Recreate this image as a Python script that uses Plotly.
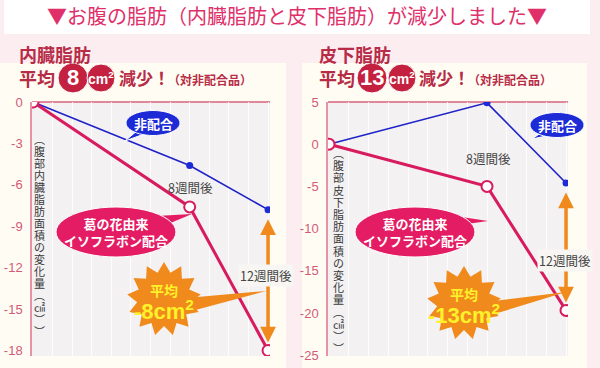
import numpy as np
import plotly.graph_objects as go

# ---------------- data ----------------
weeks = [0, 8, 12]
visceral_control = [0, -4.6, -7.8]
visceral_kudzu = [0, -7.6, -18.0]
subcut_control = [0, 4.9, -4.6]
subcut_kudzu = [0, -5.0, -19.7]
visceral_ticks = [0, -3, -6, -9, -12, -15, -18]
subcut_ticks = [5, 0, -5, -10, -15, -20, -25]
visceral_range = [-18.4, 0]
subcut_range = [-25.1, 5]
week_range = [-0.05, 12.1]

title_text = "▼お腹の脂肪（内臓脂肪と皮下脂肪）が減少しました▼"
panel_titles = ["内臓脂肪", "皮下脂肪"]
avg_values = ["8", "13"]
ytitles = ["︵腹部内臓脂肪面積の変化量︵㎠︶︶", "︵腹部皮下脂肪面積の変化量︵㎠︶︶"]
label_control = "非配合"
label_kudzu = "葛の花由来<br>イソフラボン配合"
label_8w = "8週間後"
label_12w = "12週間後"
burst_values = ["-8", "-13"]

# ---------------- styling ----------------
W, H = 600, 368
PINK_BG = "#fcedf1"
CREAM = "#fffdf3"
PLOT_BG = "#f3f1f2"
TICK_COL = "#d45a78"
HEAD_COL = "#b72c47"
CIRC_COL = "#c4203f"
PINK_LINE = "#d81b5e"
PINK_FILL = "#e41c63"
BLUE = "#1f22c8"
BLUE_FILL = "#1c2bd6"
ORANGE = "#f08a1c"
YELLOW = "#fff12a"
JP = "Noto Sans CJK JP"
NUM = "Liberation Sans"


def px(x):
    return x / W


def py(y):
    return 1 - y / H


def poly_path(pts):
    s = "M " + " L ".join(f"{px(x):.5f},{py(y):.5f}" for x, y in pts)
    return s + " Z"


def ellipse_pts(cx, cy, rx, ry, n=48):
    t = np.linspace(0, 2 * np.pi, n, endpoint=False)
    return list(zip(cx + rx * np.cos(t), cy + ry * np.sin(t)))


def star_pts(cx, cy, R, r, n=13):
    pts = []
    for i in range(2 * n):
        a = -np.pi / 2 + i * np.pi / n
        rad = R if i % 2 == 0 else r
        pts.append((cx + rad * np.cos(a), cy + rad * np.sin(a)))
    return pts


def text_at(x, y, text, font, xanchor="center", **kw):
    d = dict(x=px(x), y=py(y), xref="paper", yref="paper", text=text, showarrow=False,
             xanchor=xanchor, yanchor="middle", font=font)
    d.update(kw)
    return d


PLOT_TOP, PLOT_BOT = 102, 356

panels = [
    dict(xa="x", ya="y", left=32, right=270, yr=visceral_range, ticks=visceral_ticks,
         ctrl=visceral_control, kudzu=visceral_kudzu, title=panel_titles[0],
         avg=avg_values[0], ytitle=ytitles[0], burst=burst_values[0],
         bg=(0, 286), off=0,
         bubble=(153, 123), bubble_tip=(125, 141), w8=(190, 187),
         ell=(116, 232), ell_tip=(192, 214), star=(164, 299), star_tip=(266, 291),
         w12=(266, 275), yt=(39, 139, 12.0), c1=(73, 15), c2=(101, 14),
         txt_after=117, paren=166),
    dict(xa="x2", ya="y2", left=328, right=568, yr=subcut_range, ticks=subcut_ticks,
         ctrl=subcut_control, kudzu=subcut_kudzu, title=panel_titles[1],
         avg=avg_values[1], ytitle=ytitles[1], burst=burst_values[1],
         bg=(302, 587), off=300,
         bubble=(557, 125), bubble_tip=(532, 139), w8=(488, 158),
         ell=(415, 232), ell_tip=(488, 221), star=(464, 303), star_tip=(566, 292),
         w12=(565, 260), yt=(338, 153, 12.2), c1=(372, 15), c2=(402, 14),
         txt_after=417, paren=466),
]

fig = go.Figure()
shapes = []
annos = []

# title band
shapes.append(dict(type="rect", xref="paper", yref="paper", x0=px(4), x1=px(590),
                   y0=py(34), y1=py(0), fillcolor="white", line_width=0, layer="below"))
annos.append(text_at(297, 16, title_text, dict(family=JP, size=20, color="#e0306a")))

layout_axes = {}
for i, p in enumerate(panels):
    sfx = "" if i == 0 else "2"
    L, R = p["left"], p["right"]
    y0, y1 = p["yr"]
    ppu = (PLOT_BOT - PLOT_TOP) / (y1 - y0)

    # backgrounds
    shapes.append(dict(type="rect", xref="paper", yref="paper", x0=px(p["bg"][0]),
                       x1=px(p["bg"][1]), y0=py(368), y1=py(63), fillcolor=CREAM,
                       line_width=0, layer="below"))
    shapes.append(dict(type="rect", xref="paper", yref="paper", x0=px(L), x1=px(R),
                       y0=py(PLOT_BOT), y1=py(PLOT_TOP), fillcolor=PLOT_BG,
                       line_width=0, layer="below"))
    shapes.append(dict(type="line", xref="paper", yref="paper", x0=px(L), x1=px(R),
                       y0=py(PLOT_TOP), y1=py(PLOT_TOP),
                       line=dict(color="#d9607f", width=1.5), layer="below"))

    layout_axes["xaxis" + sfx] = dict(domain=[px(L), px(R)], range=week_range,
                                      anchor="y" + sfx, showticklabels=False,
                                      showgrid=True, gridcolor="rgba(255,255,255,0.85)",
                                      gridwidth=1, dtick=1, tick0=0, zeroline=False,
                                      showline=False, ticks="", fixedrange=True,
                                      automargin=False)
    layout_axes["yaxis" + sfx] = dict(domain=[py(PLOT_BOT), py(PLOT_TOP)], range=p["yr"],
                                      anchor="x" + sfx, tickmode="array",
                                      tickvals=p["ticks"],
                                      ticktext=[str(t) for t in p["ticks"]],
                                      tickfont=dict(family=NUM, size=13, color=TICK_COL),
                                      showgrid=False, zeroline=False, showline=True,
                                      linecolor="#e693a8", linewidth=1.5, ticks="",
                                      ticklabelstandoff=5, fixedrange=True,
                                      automargin=False)

    # traces
    fig.add_trace(go.Scatter(x=weeks, y=p["ctrl"], xaxis=p["xa"], yaxis=p["ya"],
                             mode="lines+markers", line=dict(color=BLUE, width=1.6),
                             marker=dict(size=7, color=BLUE_FILL), showlegend=False,
                             hoverinfo="skip"))
    fig.add_trace(go.Scatter(x=weeks, y=p["kudzu"], xaxis=p["xa"], yaxis=p["ya"],
                             mode="lines+markers", line=dict(color=PINK_LINE, width=3),
                             marker=dict(size=11, color="white",
                                         line=dict(color=PINK_LINE, width=2)),
                             showlegend=False, hoverinfo="skip"))

    # 12-week double arrow between the two final points
    gap = 8 / ppu
    annos.append(dict(x=weeks[-1], y=p["kudzu"][-1] + gap, ax=weeks[-1],
                      ay=p["ctrl"][-1] - gap, xref=p["xa"], yref=p["ya"],
                      axref=p["xa"], ayref=p["ya"], text="", showarrow=True,
                      arrowside="end+start", arrowhead=2, arrowsize=0.9,
                      arrowwidth=3.5, arrowcolor=ORANGE, standoff=0, startstandoff=0))
    annos.append(text_at(p["w12"][0], p["w12"][1], label_12w,
                         dict(family=JP, size=12.5, color="#444444"),
                         bgcolor="#f8f6f3", borderpad=1))
    annos.append(text_at(p["w8"][0], p["w8"][1], label_8w,
                         dict(family=JP, size=12.5, color="#444444")))

    # blue bubble
    bx, by = p["bubble"]
    shapes.append(dict(type="path", xref="paper", yref="paper",
                       path=poly_path([(bx - 15, by + 7), (bx - 6, by + 10), p["bubble_tip"]]),
                       fillcolor=BLUE_FILL, line=dict(color="white", width=1), layer="above"))
    shapes.append(dict(type="path", xref="paper", yref="paper",
                       path=poly_path(ellipse_pts(bx, by, 27, 12.5)),
                       fillcolor=BLUE_FILL, line=dict(color="white", width=1), layer="above"))
    annos.append(text_at(bx, by, "<b>" + label_control + "</b>",
                         dict(family=JP, size=13, color="white")))

    # pink ellipse
    ex, ey = p["ell"]
    shapes.append(dict(type="path", xref="paper", yref="paper",
                       path=poly_path([(ex + 40, ey - 16), (ex + 52, ey - 8), p["ell_tip"]]),
                       fillcolor=PINK_FILL, line_width=0, layer="above"))
    shapes.append(dict(type="path", xref="paper", yref="paper",
                       path=poly_path(ellipse_pts(ex, ey, 60, 25)),
                       fillcolor=PINK_FILL, line=dict(color="white", width=1), layer="above"))
    annos.append(text_at(ex, ey, "<b>" + label_kudzu.replace("<br>", "</b><br><b>") + "</b>",
                         dict(family=JP, size=13, color="white")))

    # starburst
    sx, sy = p["star"]
    shapes.append(dict(type="path", xref="paper", yref="paper",
                       path=poly_path([(sx + 22, sy - 1), (sx + 24, sy + 13), p["star_tip"]]),
                       fillcolor=ORANGE, line_width=0, layer="above"))
    shapes.append(dict(type="path", xref="paper", yref="paper",
                       path=poly_path(star_pts(sx, sy, 37, 27)),
                       fillcolor=ORANGE, line_width=0, layer="above"))
    annos.append(text_at(sx, sy - 9, "<b>平均</b>", dict(family=JP, size=14, color=YELLOW)))
    annos.append(text_at(sx, sy + 11, "<b>" + p["burst"] + "cm<sup>2</sup></b>",
                         dict(family="Liberation Sans Narrow, Liberation Sans", size=22,
                              color=YELLOW)))

    # vertical y title
    tx, ty0, step = p["yt"]
    for k, ch in enumerate(p["ytitle"]):
        annos.append(text_at(tx, ty0 + k * step, ch,
                             dict(family=JP, size=11, color="#3a3a3a")))

    # headers
    off = p["off"]
    annos.append(text_at(off + 17, 54, "<b>" + p["title"] + "</b>",
                         dict(family=JP, size=18, color=HEAD_COL), xanchor="left"))
    annos.append(text_at(off + 17, 78, "<b>平均</b>",
                         dict(family=JP, size=18, color=HEAD_COL), xanchor="left"))
    c1x, c1r = p["c1"]
    c2x, c2r = p["c2"]
    for cx, cr in [(c1x, c1r), (c2x, c2r)]:
        shapes.append(dict(type="circle", xref="paper", yref="paper",
                           x0=px(cx - cr), x1=px(cx + cr), y0=py(78 + cr), y1=py(78 - cr),
                           fillcolor=CIRC_COL, line=dict(color="white", width=1),
                           layer="above"))
    annos.append(text_at(c1x, 78, "<b>" + p["avg"] + "</b>",
                         dict(family=NUM, size=22, color="white")))
    annos.append(text_at(c2x, 78, "<b>cm<sup>2</sup></b>",
                         dict(family=NUM, size=14, color="white")))
    annos.append(text_at(p["txt_after"], 78, "<b>減少！</b>",
                         dict(family=JP, size=17, color=HEAD_COL), xanchor="left"))
    annos.append(text_at(p["paren"], 79, "<b>（対非配合品）</b>",
                         dict(family=JP, size=12, color=HEAD_COL), xanchor="left"))

fig.update_layout(width=W, height=H, margin=dict(l=0, r=0, t=0, b=0, pad=0),
                  paper_bgcolor=PINK_BG, plot_bgcolor="rgba(0,0,0,0)",
                  shapes=shapes, annotations=annos, showlegend=False, **layout_axes)

fig.write_html("out.html", config={"displayModeBar": False},
               post_script="document.body.style.margin='0';document.body.style.padding='0';")
